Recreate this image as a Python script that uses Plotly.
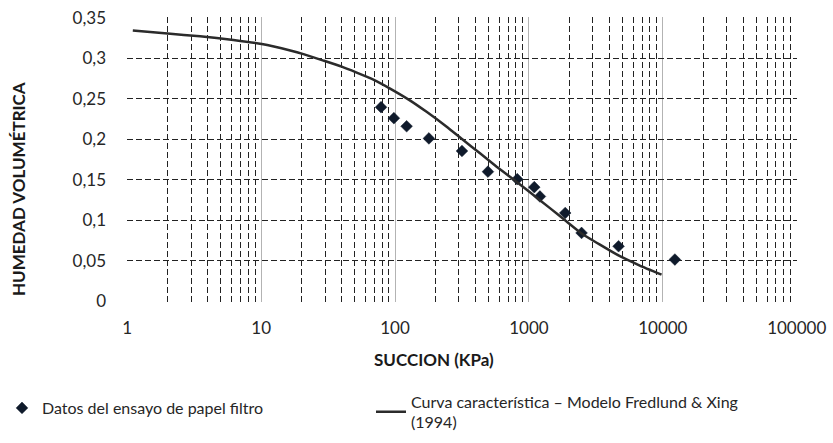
import plotly.graph_objects as go

# Data
succion_datos = [78.6, 98, 122, 179, 316, 494, 818, 1096, 1208, 1866, 2472, 4670, 12300]
humedad_datos = [0.2395, 0.226, 0.216, 0.201, 0.1855, 0.160, 0.1507, 0.1409, 0.1294, 0.109, 0.0844, 0.068, 0.0516]

succion_curva = [1.1, 2.0, 3.5, 6.2, 10.1, 16.5, 20.7, 29.2, 40, 51.7, 68.9, 91.8, 129, 172, 243, 323, 431,
                 574, 764, 1017, 1435, 1911, 2472, 3390, 4780, 6730, 9780]
humedad_curva = [0.334, 0.3303, 0.327, 0.3225, 0.3175, 0.3095, 0.305, 0.297, 0.2895, 0.2822, 0.2736, 0.2625,
                 0.248, 0.2338, 0.2154, 0.199, 0.1826, 0.166, 0.1505, 0.1345, 0.115, 0.0985, 0.0838, 0.070,
                 0.0557, 0.0442, 0.033]

x_ticks = [1, 10, 100, 1000, 10000, 100000]
x_ticklabels = ["1", "10", "100", "1000", "10000", "100000"]
y_ticks = [0, 0.05, 0.1, 0.15, 0.2, 0.25, 0.3, 0.35]

name_datos = "Datos del ensayo de papel filtro"
name_curva = "Curva característica – Modelo Fredlund & Xing<br>(1994)"

W, H = 833, 443
L, R, T, B = 127, 36, 17, 141
pw, ph = W - L - R, H - T - B


def px_x(p):
    return (p - L) / pw


def px_y(p):
    return (H - B - p) / ph


font_family = "Lato, 'Open Sans', sans-serif"
txt_color = "#262626"

fig = go.Figure()
fig.add_trace(go.Scatter(
    x=succion_datos, y=humedad_datos, mode="markers", name=name_datos, legend="legend",
    marker=dict(symbol="diamond", size=9, color="#0f1a2b", line=dict(width=0.5, color="#0f1a2b")),
))
fig.add_trace(go.Scatter(
    x=succion_curva, y=humedad_curva, mode="lines", name=name_curva, legend="legend2",
    line=dict(color="#2b2b2b", width=2.5, shape="spline", smoothing=0.4),
))

dash = "6px,3px"

fig.update_layout(
    width=W, height=H,
    margin=dict(l=L, r=R, t=T, b=B, autoexpand=False),
    paper_bgcolor="white", plot_bgcolor="white",
    separators=", ",
    font=dict(family=font_family, size=16, color=txt_color),
    showlegend=True,
    legend=dict(
        orientation="h", x=px_x(2), y=px_y(408), xanchor="left", yanchor="middle",
        font=dict(size=16, family=font_family, color=txt_color),
        bgcolor="rgba(0,0,0,0)",
    ),
    legend2=dict(
        orientation="h", x=px_x(371), y=px_y(412), xanchor="left", yanchor="middle",
        font=dict(size=16, family=font_family, color=txt_color),
        bgcolor="rgba(0,0,0,0)", valign="middle",
    ),
    xaxis=dict(
        type="log", range=[-0.002, 5.002], automargin=False,
        tickvals=x_ticks, ticktext=x_ticklabels,
        showgrid=True, gridcolor="#b3b3b3", gridwidth=1,
        minor=dict(dtick="D1", showgrid=True, gridcolor="#222222", griddash=dash, gridwidth=1, ticks=""),
        zeroline=False, showline=False, ticks="",
        ticklabelstandoff=14,
        tickfont=dict(size=17, family=font_family, color=txt_color),
    ),
    yaxis=dict(
        range=[-0.0008, 0.3508], tickvals=y_ticks, tickformat=".2~f", automargin=False,
        showgrid=True, gridcolor="#222222", griddash=dash, gridwidth=1,
        zeroline=False, showline=False, ticks="",
        ticklabelstandoff=20,
        tickfont=dict(size=17, family=font_family, color=txt_color),
    ),
    annotations=[
        dict(text="<b>SUCCION (KPa)</b>", x=px_x(434), y=px_y(359), xref="paper", yref="paper",
             xanchor="center", yanchor="middle",
             showarrow=False, font=dict(size=17, family=font_family, color="#1a1a1a")),
        dict(text="<b>HUMEDAD VOLUMÉTRICA</b>", x=px_x(18), y=px_y(189), xref="paper", yref="paper",
             xanchor="center", yanchor="middle",
             textangle=-90, showarrow=False, font=dict(size=17, family=font_family, color="#1a1a1a")),
    ],
)

fig.write_html("out.html")
